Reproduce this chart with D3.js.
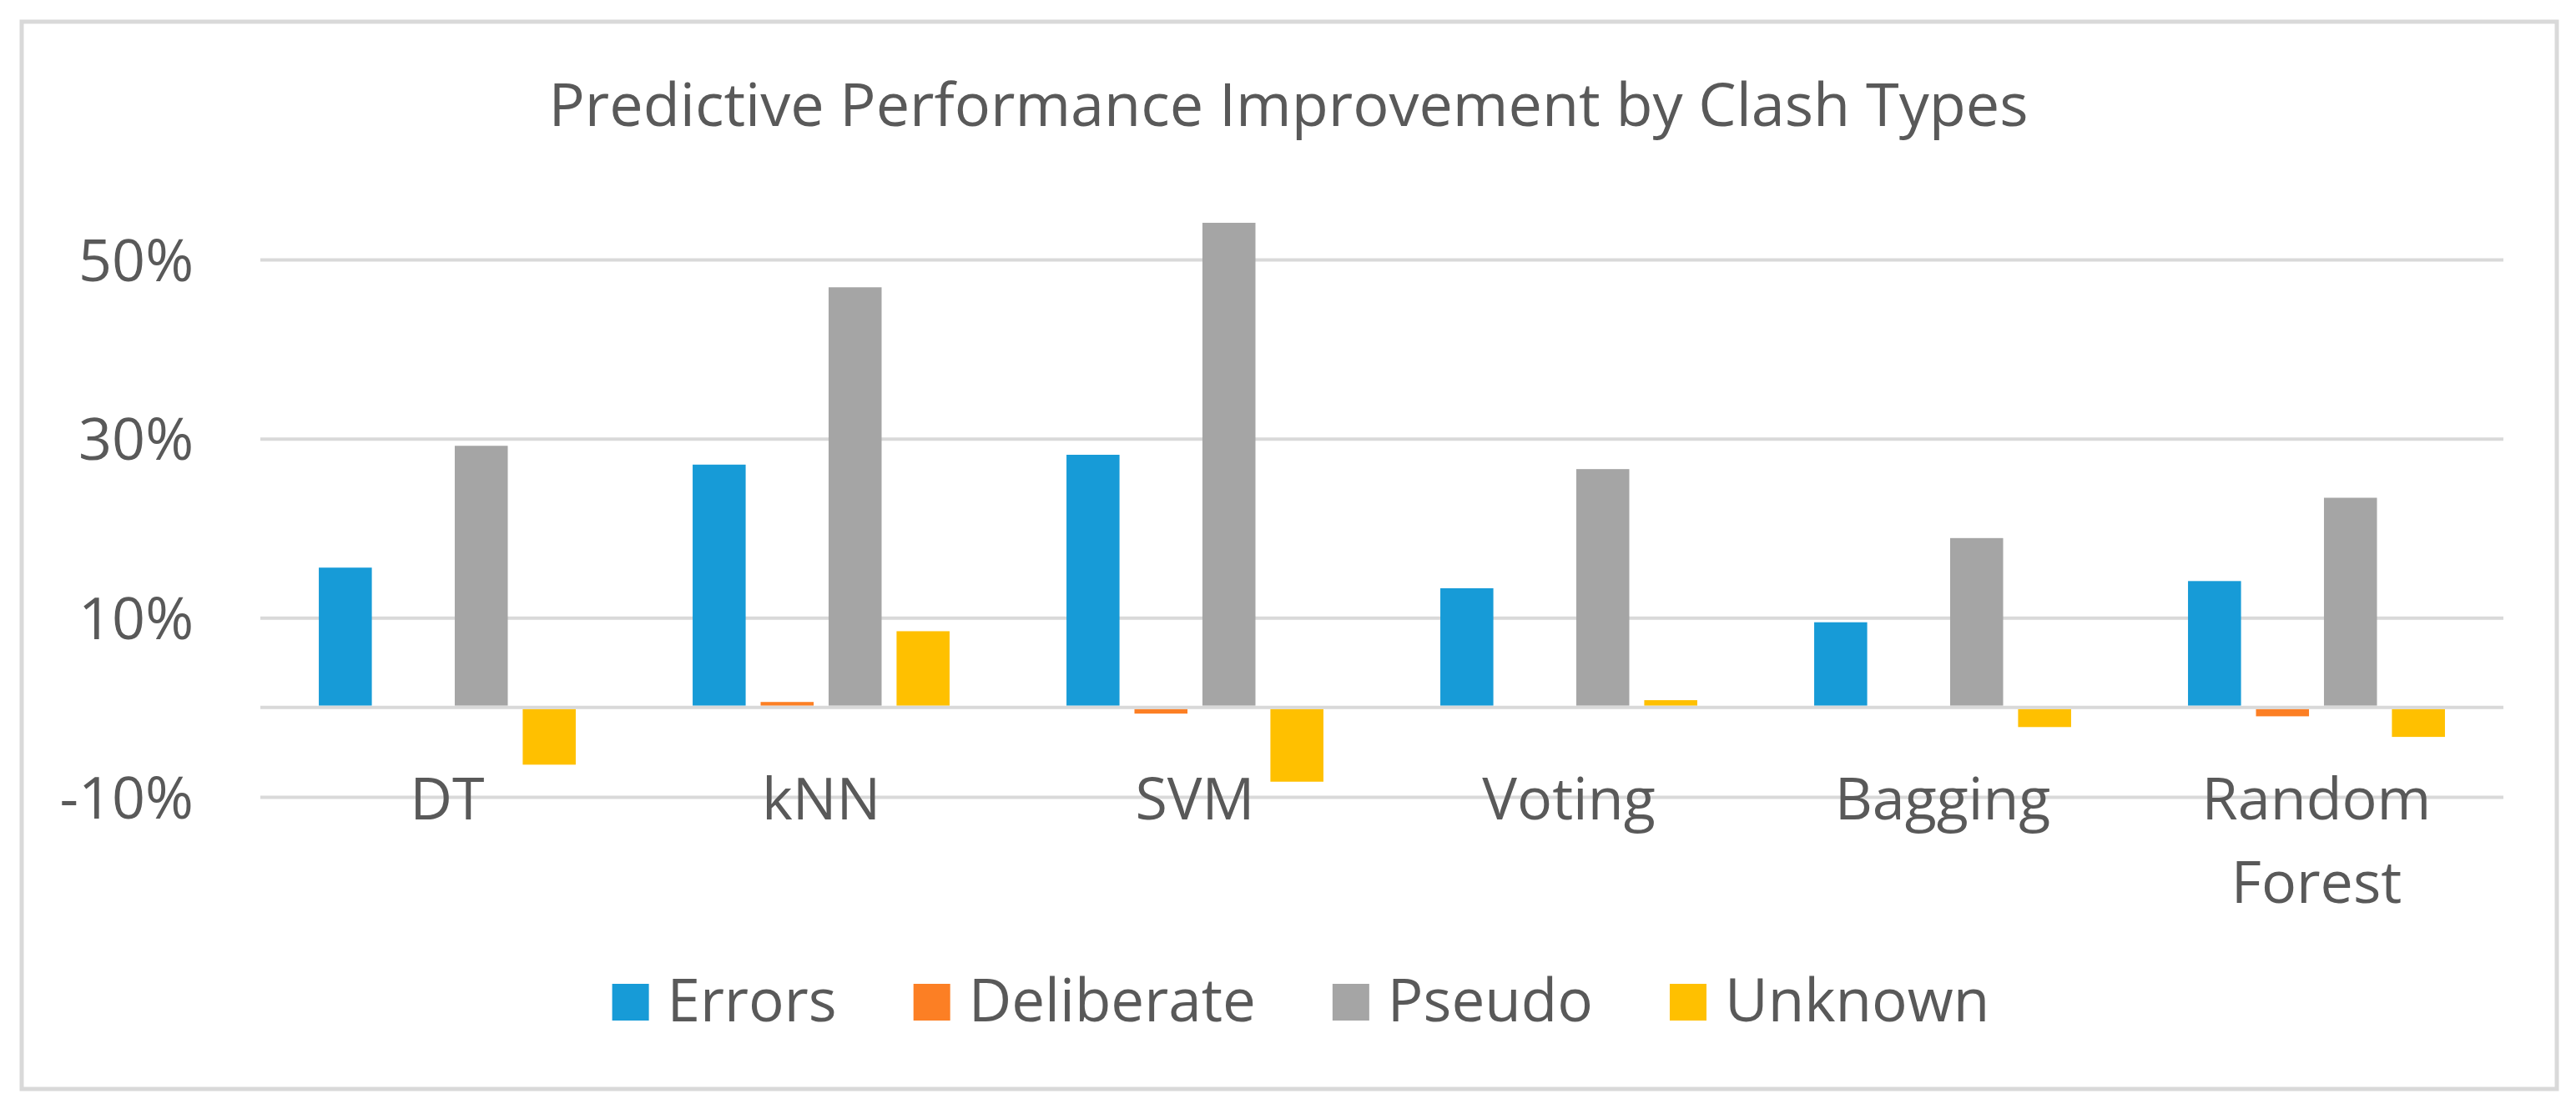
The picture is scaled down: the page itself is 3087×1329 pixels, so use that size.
<html>
<head>
<meta charset="utf-8">
<script src="https://cdnjs.cloudflare.com/ajax/libs/d3/7.8.5/d3.min.js"></script>
<style>
  body { margin: 0; background: #fff; }
  text { font-family: "Open Sans", sans-serif; fill: #595959; }
</style>
</head>
<body>
<div id="chart"></div>
<script>
"use strict";
// chart values (percent)
var categories = ["DT", "kNN", "SVM", "Voting", "Bagging", "Random Forest"];
var seriesNames = ["Errors", "Deliberate", "Pseudo", "Unknown"];
var errors = [15.6, 27.1, 28.2, 13.3, 9.5, 14.1];
var deliberate = [0, 0.6, -0.7, 0, 0, -1.0];
var pseudo = [29.2, 46.9, 54.1, 26.6, 18.9, 23.4];
var unknown = [-6.4, 8.5, -8.3, 0.8, -2.2, -3.3];
var yTicks = [-10, 10, 30, 50];
var titleText = "Predictive Performance Improvement by Clash Types";

var seriesValues = [errors, deliberate, pseudo, unknown];
var colors = ["#179bd7", "#fc7f24", "#a5a5a5", "#ffc000"];

var W = 3087, H = 1329;
var svg = d3.select("#chart").append("svg")
  .attr("width", W).attr("height", H);

// outer frame
svg.append("rect")
  .attr("x", 26).attr("y", 26)
  .attr("width", 3038).attr("height", 1279)
  .attr("fill", "#fff")
  .attr("stroke", "#d9d9d9").attr("stroke-width", 5);

var left = 312, right = 3000;

//scales
var x = d3.scaleBand().domain(categories).range([left, right]);
var xs = d3.scaleBand().domain(seriesNames).range([0, x.bandwidth()])
  .paddingInner(0.22).paddingOuter(0.86);
var y = d3.scaleLinear().domain([-10, 50]).range([955, 311]);

// gridlines + y labels through a left axis
var yAxis = svg.append("g")
  .attr("transform", "translate(" + left + ",0)")
  .call(d3.axisLeft(y).tickValues(yTicks)
    .tickSize(-(right - left)).tickPadding(80)
    .tickFormat(function (d) { return d + "%"; }));
yAxis.select(".domain").remove();
yAxis.selectAll(".tick line").attr("stroke", "#d9d9d9").attr("stroke-width", 4);
yAxis.selectAll(".tick text")
  .style("font-size", "70px").attr("fill", "#595959")
  .attr("dy", "0.36em");

// bars
var rows = [];
categories.forEach(function (c, i) {
  seriesNames.forEach(function (s, j) {
    rows.push({ cat: c, series: s, value: seriesValues[j][i], color: colors[j] });
  });
});
svg.append("g").selectAll("rect")
  .data(rows)
  .enter()
  .append("rect")
  .attr("x", function (d) { return x(d.cat) + xs(d.series); })
  .attr("width", xs.bandwidth())
  .attr("y", function (d) { return d.value >= 0 ? y(d.value) : y(0) + 2; })
  .attr("height", function (d) {
    return d.value >= 0 ? Math.max(0, y(0) - 2 - y(d.value)) : Math.max(0, y(d.value) - y(0) - 2);
  })
  .attr("fill", function (d) { return d.color; });

// zero axis line
svg.append("line")
  .attr("x1", left).attr("x2", right)
  .attr("y1", y(0)).attr("y2", y(0))
  .attr("stroke", "#d9d9d9").attr("stroke-width", 4);

// category labels, wrapped when wider than the band
var xAxis = svg.append("g")
  .attr("transform", "translate(0,982)")
  .call(d3.axisBottom(x).tickSize(0).tickPadding(0));
xAxis.select(".domain").remove();
xAxis.selectAll(".tick text")
  .style("font-size", "70px").attr("fill", "#595959")
  .attr("dy", 0).attr("y", 0)
  .each(function (d) {
    var t = d3.select(this);
    if (this.getComputedTextLength() > x.bandwidth()) {
      var words = d.split(" ");
      t.text(null);
      words.forEach(function (w, k) {
        t.append("tspan").attr("x", 0).attr("dy", k === 0 ? 0 : 100).text(w);
      });
    }
  });

// title
svg.append("text")
  .attr("x", 1544).attr("y", 151)
  .attr("text-anchor", "middle")
  .style("font-size", "72px")
  .text(titleText);

// legend, centred under the plot
var legend = svg.append("g");
var items = legend.selectAll("g")
  .data(seriesNames)
  .enter()
  .append("g");
items.append("rect")
  .attr("width", 44).attr("height", 44)
  .attr("y", -45)
  .attr("fill", function (d, i) { return colors[i]; });
items.append("text")
  .attr("x", 66).attr("y", 0)
  .style("font-size", "71px")
  .text(function (d) { return d; });
var pos = 0;
items.each(function () {
  d3.select(this).attr("transform", "translate(" + pos + ",0)");
  pos += 66 + d3.select(this).select("text").node().getComputedTextLength() + 92;
});
var legendWidth = pos - 92;
legend.attr("transform", "translate(" + (1559 - legendWidth / 2) + ",1224)");
</script>
</body>
</html>
